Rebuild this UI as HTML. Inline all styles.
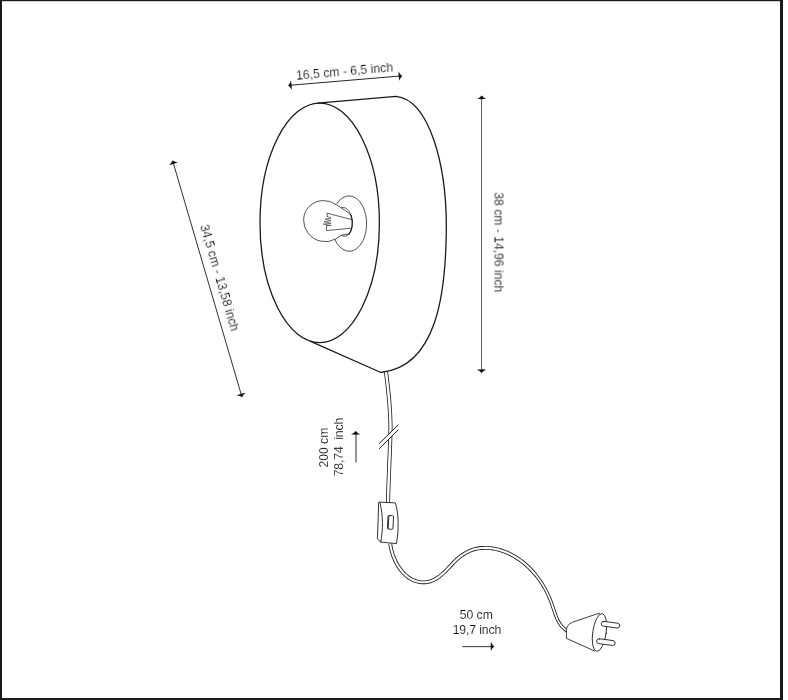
<!DOCTYPE html>
<html>
<head>
<meta charset="utf-8">
<title>Lamp dimensions</title>
<style>
  html, body { margin: 0; padding: 0; background: #ffffff; }
  body { width: 788px; height: 700px; overflow: hidden; position: relative; }
  svg { position: absolute; left: 0; top: 0; display: block; }
  text { font-family: "Liberation Sans", sans-serif; font-size: 12.2px; fill: #000000; stroke: #ffffff; stroke-width: 0.16px; }
  .lbl { opacity: 0.999; }
</style>
</head>
<body>
<svg width="788" height="700" viewBox="0 0 788 700">
  <rect x="0" y="0" width="788" height="700" fill="#ffffff"/>

  <!-- frame -->
  <g fill="#1a1a1a">
    <rect x="0" y="0" width="783" height="1.2"/>
    <rect x="0" y="0" width="2" height="700"/>
    <rect x="780" y="0" width="3" height="700"/>
    <rect x="0" y="698" width="783" height="2"/>
  </g>

  <!-- shade -->
  <g fill="none" stroke="#1a1a1a" stroke-width="1.3" stroke-linecap="round" stroke-linejoin="round">
    <ellipse cx="319.7" cy="222.85" rx="59.7" ry="119.7"/>
    <path d="M 317.6 103.2 L 395.9 96.3 C 429 99.5 447.2 164.4 446.3 232 C 445.5 292 437.4 366.7 380.9 372.5 L 310.6 341.3"/>
  </g>

  <!-- base plate, bulb -->
  <g fill="none" stroke="#1a1a1a" stroke-width="0.75" stroke-linecap="round" stroke-linejoin="round">
    <!-- base plate -->
    <path d="M 336.88 203.56 A 17.53 27.76 -0.26 1 1 334.73 239.38"/>
    <!-- bulb globe -->
    <path d="M 351.09 215.45 C 349.6 213.4 345.2 210.6 341.1 207.7 L 336.51 204.82 A 20.26 21.19 -55.95 1 0 335.12 239.24 L 341.1 235.4 C 343 234.6 346 234.2 348.97 234.12"/>
    <!-- socket -->
    <path d="M 341.81 207.44 A 8.53 14.58 -4.48 1 1 341.39 235.44"/>
    <path d="M 351.09 215.45 A 8.53 14.58 -4.48 0 1 348.97 234.12" stroke-width="1.1"/>
    <!-- filament -->
    <path d="M 351 219.4 L 327.1 213.2 L 327.3 216.5 M 326.6 225.4 L 326.3 230.6 L 351 228.2" stroke-width="0.7"/>
    <path d="M 327.3 216.5 L 331.1 218 L 325.1 219.1 L 331.1 220.6 L 324 221.7 L 331.1 223.2 L 323.3 224.1 L 331.1 225.5 L 326.6 225.4" stroke-width="0.55"/>
  </g>

  <!-- cable -->
  <g fill="none" stroke-linecap="butt" stroke-linejoin="round">
    <path d="M 386 372.1 C 388 387 390.2 405 390.5 425 C 390.5 445 388.5 475 388 502.8" stroke="#1a1a1a" stroke-width="4.1"/>
    <path d="M 386 372.1 C 388 387 390.2 405 390.5 425 C 390.5 445 388.5 475 388 502.8" stroke="#ffffff" stroke-width="2.5"/>
    <path d="M 536.0 575.3 L 537.7 577.5 L 539.4 579.7 L 541.0 582.0 L 542.5 584.4 L 543.9 586.8 L 545.3 589.2 L 546.6 591.7 L 547.8 594.1 L 548.9 596.7 L 550.0 599.2 L 551.0 601.7 L 551.9 604.3 L 552.8 606.9 L 553.7 609.5 L 554.6 612.1 L 555.5 614.8 L 556.5 617.4 L 557.6 619.9 L 558.9 622.3 L 560.4 624.6 L 562.1 626.7 L 564.1 628.6 L 566.3 630.4 L 568.7 631.9" stroke="#1a1a1a" stroke-width="3.4"/>
    <path d="M 390.2 543.7 L 390.6 546.2 L 391.1 548.8 L 391.8 551.4 L 392.6 554.0 L 393.5 556.6 L 394.6 559.2 L 395.7 561.7 L 397.0 564.2 L 398.5 566.7 L 400.1 569.0 L 401.8 571.2 L 403.6 573.2 L 405.6 575.1 L 407.6 576.9 L 409.9 578.4 L 412.3 579.7 L 414.7 580.7 L 417.3 581.5 L 419.9 582.1 L 422.6 582.3 L 425.2 582.3 L 427.9 581.9 L 430.5 581.3 L 433.0 580.3 L 435.4 579.0 L 437.8 577.6 L 440.0 575.9 L 442.2 574.1 L 444.3 572.2 L 446.3 570.3 L 448.2 568.3 L 450.0 566.4 L 451.8 564.4 L 453.7 562.4 L 455.6 560.5 L 457.6 558.7 L 459.7 556.9 L 461.9 555.3 L 464.2 553.8 L 466.6 552.4 L 469.1 551.2 L 471.6 550.1 L 474.2 549.3 L 476.9 548.7 L 479.5 548.2 L 482.2 548.0 L 484.9 547.9 L 487.7 547.9 L 490.4 548.1 L 493.0 548.5 L 495.7 549.0 L 498.4 549.6 L 501.0 550.4 L 503.5 551.3 L 506.0 552.2 L 508.5 553.3 L 510.9 554.5 L 513.3 555.8 L 515.7 557.1 L 517.9 558.6 L 520.2 560.2 L 522.4 561.8 L 524.5 563.5 L 526.5 565.3 L 528.6 567.2 L 530.5 569.1 L 532.4 571.1 L 534.2 573.2 L 536.0 575.3" stroke="#1a1a1a" stroke-width="3.8"/>
    <path d="M 536.0 575.3 L 537.7 577.5 L 539.4 579.7 L 541.0 582.0 L 542.5 584.4 L 543.9 586.8 L 545.3 589.2 L 546.6 591.7 L 547.8 594.1 L 548.9 596.7 L 550.0 599.2 L 551.0 601.7 L 551.9 604.3 L 552.8 606.9 L 553.7 609.5 L 554.6 612.1 L 555.5 614.8 L 556.5 617.4 L 557.6 619.9 L 558.9 622.3 L 560.4 624.6 L 562.1 626.7 L 564.1 628.6 L 566.3 630.4 L 568.7 631.9" stroke="#ffffff" stroke-width="1.7"/>
    <path d="M 390.2 543.7 L 390.6 546.2 L 391.1 548.8 L 391.8 551.4 L 392.6 554.0 L 393.5 556.6 L 394.6 559.2 L 395.7 561.7 L 397.0 564.2 L 398.5 566.7 L 400.1 569.0 L 401.8 571.2 L 403.6 573.2 L 405.6 575.1 L 407.6 576.9 L 409.9 578.4 L 412.3 579.7 L 414.7 580.7 L 417.3 581.5 L 419.9 582.1 L 422.6 582.3 L 425.2 582.3 L 427.9 581.9 L 430.5 581.3 L 433.0 580.3 L 435.4 579.0 L 437.8 577.6 L 440.0 575.9 L 442.2 574.1 L 444.3 572.2 L 446.3 570.3 L 448.2 568.3 L 450.0 566.4 L 451.8 564.4 L 453.7 562.4 L 455.6 560.5 L 457.6 558.7 L 459.7 556.9 L 461.9 555.3 L 464.2 553.8 L 466.6 552.4 L 469.1 551.2 L 471.6 550.1 L 474.2 549.3 L 476.9 548.7 L 479.5 548.2 L 482.2 548.0 L 484.9 547.9 L 487.7 547.9 L 490.4 548.1 L 493.0 548.5 L 495.7 549.0 L 498.4 549.6 L 501.0 550.4 L 503.5 551.3 L 506.0 552.2 L 508.5 553.3 L 510.9 554.5 L 513.3 555.8 L 515.7 557.1 L 517.9 558.6 L 520.2 560.2 L 522.4 561.8 L 524.5 563.5 L 526.5 565.3 L 528.6 567.2 L 530.5 569.1 L 532.4 571.1 L 534.2 573.2 L 536.0 575.3" stroke="#ffffff" stroke-width="2.1"/>
  </g>

  <!-- break marks -->
  <path d="M 379.3 443.4 L 398.2 425 L 398.2 430 L 379.3 448.6 Z" fill="#ffffff" stroke="none"/>
  <g fill="none" stroke="#1a1a1a" stroke-width="1" stroke-linecap="round">
    <path d="M 379.3 443.4 L 398.2 425"/>
    <path d="M 379.3 448.6 L 398.2 430"/>
  </g>

  <!-- switch -->
  <g fill="#ffffff" stroke="#1a1a1a" stroke-width="0.9" stroke-linejoin="round" stroke-linecap="round">
    <path d="M 379.3 502.1 L 395.4 502.9 C 398.8 514 399 530 396.4 543.6 L 380.7 542.1 L 377.4 538.6 C 378 527 378.3 515 378.6 503.6 Z"/>
    <path d="M 380 502.9 C 383.2 515 383.2 530 380.7 542.1" fill="none"/>
    <rect x="-2.75" y="-6.8" width="5.5" height="13.6" rx="1.2" ry="1.2" transform="translate(390.5 522.4) rotate(3)"/>
    <path d="M -2 -6 L -2 6" fill="none" transform="translate(390.5 522.4) rotate(3)"/>
  </g>

  <!-- plug -->
  <g fill="#ffffff" stroke="#1a1a1a" stroke-width="0.85" stroke-linejoin="round" stroke-linecap="round">
    <path d="M 594.6 651 L 568.3 639.2 L 566.4 638.3 L 566.4 629.8 C 566.6 626.5 568.8 623.7 572.4 622.3 L 596.3 614.1 L 599.5 613.4"/>
    <ellipse cx="0" cy="0" rx="6.72" ry="19.13" transform="translate(599.47 632.48) rotate(8.35)"/>
    <rect x="-9.3" y="-2.4" width="18.6" height="4.8" rx="2.4" ry="2.4" transform="translate(610.5 624.7) rotate(7.5)"/>
    <rect x="-9.3" y="-2.45" width="18.6" height="4.9" rx="2.45" ry="2.45" transform="translate(605.9 642.1) rotate(7.5)"/>
  </g>

  <!-- dimension lines -->
  <g fill="none" stroke="#2a2a2a" stroke-width="0.75">
    <path d="M 289.5 85.3 L 401 75.95" stroke-width="0.95" stroke="#1a1a1a"/>
    <path d="M 481.55 97 L 481.55 371"/>
    <path d="M 173 162 L 241.6 395.8" stroke-width="0.9" stroke="#1a1a1a"/>
    <path d="M 356 462.5 L 356 432.5" stroke-width="1"/>
    <path d="M 462.3 646.65 L 492.5 646.65" stroke-width="0.95"/>
  </g>
  <!-- arrow heads -->
  <g fill="#111111" stroke="none">
    <path id="ah" d="M -0.2 0 Q 2.2 -1.9 3 -4.7 L 3.4 0 L 3 4.7 Q 2.2 1.9 -0.2 0 Z" transform="translate(288.3 85.4) rotate(-4.8)"/>
    <path d="M -0.2 0 Q 2.2 -1.9 3 -4.7 L 3.4 0 L 3 4.7 Q 2.2 1.9 -0.2 0 Z" transform="translate(402 75.9) rotate(175.2)"/>
    <path d="M -0.2 0 Q 2.2 -1.9 3 -4.7 L 3.4 0 L 3 4.7 Q 2.2 1.9 -0.2 0 Z" transform="translate(481.65 95.8) rotate(90)"/>
    <path d="M -0.2 0 Q 2.2 -1.9 3 -4.7 L 3.4 0 L 3 4.7 Q 2.2 1.9 -0.2 0 Z" transform="translate(481.65 372.75) rotate(-90)"/>
    <path d="M -0.2 0 Q 2.2 -1.9 3 -4.7 L 3.4 0 L 3 4.7 Q 2.2 1.9 -0.2 0 Z" transform="translate(172.6 160.8) rotate(73.6)"/>
    <path d="M -0.2 0 Q 2.2 -1.9 3 -4.7 L 3.4 0 L 3 4.7 Q 2.2 1.9 -0.2 0 Z" transform="translate(242 397) rotate(253.6)"/>
    <path d="M -0.2 0 Q 2.2 -1.9 3 -4.7 L 3.4 0 L 3 4.7 Q 2.2 1.9 -0.2 0 Z" transform="translate(355.7 431.3) rotate(90)"/>
    <path d="M -0.2 0 Q 2.2 -1.9 3 -4.7 L 3.4 0 L 3 4.7 Q 2.2 1.9 -0.2 0 Z" transform="translate(494 646.55) rotate(180)"/>
  </g>

  <!-- labels -->
  <g class="lbl">
  <text x="0" y="0" textLength="97.2" lengthAdjust="spacing" transform="translate(296.5 79.8) rotate(-5)">16,5 cm - 6,5 inch</text>
  <text x="0" y="0" textLength="100" lengthAdjust="spacing" transform="translate(494.5 192.3) rotate(90)">38 cm - 14,96 inch</text>
  <text x="0" y="0" textLength="110.4" lengthAdjust="spacing" transform="translate(200 226) rotate(73.6)">34,5 cm - 13,58 inch</text>
  <text x="0" y="0" textLength="39.7" lengthAdjust="spacing" transform="translate(328.3 467.4) rotate(-90)">200 cm</text>
  <text x="0" y="0" textLength="58.6" lengthAdjust="spacing" style="white-space:pre" transform="translate(343.1 476.3) rotate(-90)">78,74  inch</text>
  <text x="459.8" y="618.8" textLength="33" lengthAdjust="spacing">50 cm</text>
  <text x="452.7" y="633.8" textLength="48.5" lengthAdjust="spacing">19,7 inch</text>
  </g>
</svg>
</body>
</html>
